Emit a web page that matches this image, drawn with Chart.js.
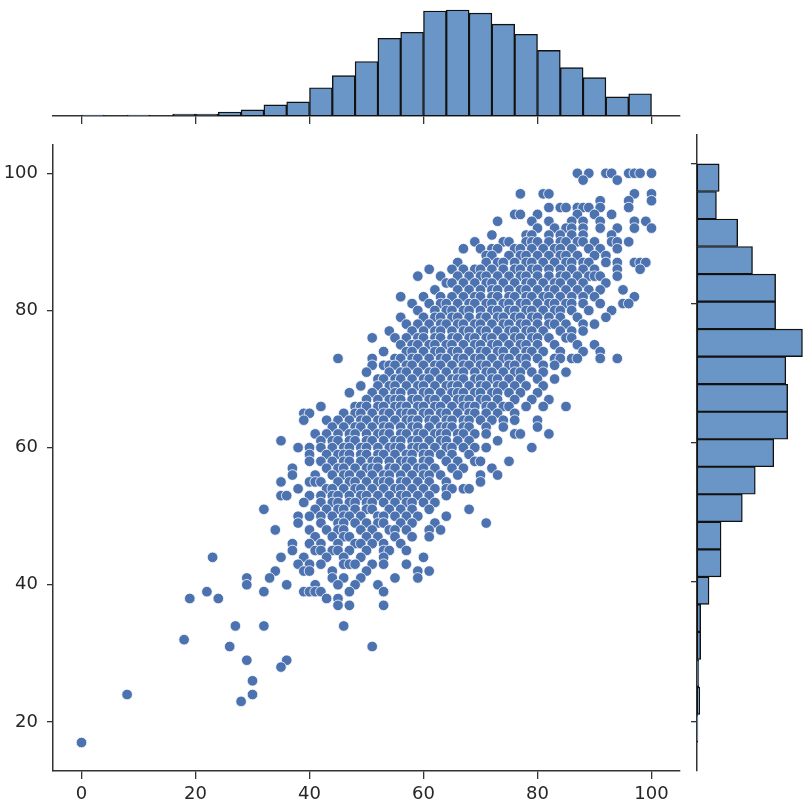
<!DOCTYPE html>
<html>
<head>
<meta charset="utf-8">
<script src="https://cdn.jsdelivr.net/npm/chart.js@4.4.1/dist/chart.umd.min.js"></script>
<style>
  body { margin: 0; background: #fff; }
  #wrap { position: relative; width: 810px; height: 812px; }
  canvas { position: absolute; }
  #top { left: 0; top: 0; }
  #main { left: 0; top: 125px; }
  #side { left: 690px; top: 125px; }
</style>
</head>
<body>
<div id="wrap">
  <canvas id="top" width="690" height="125"></canvas>
  <canvas id="main" width="690" height="687"></canvas>
  <canvas id="side" width="120" height="687"></canvas>
</div>
<script>
// top margin: math score histogram, 25 bins of 4 points (bin centres)
var mathBins = [2, 6, 10, 14, 18, 22, 26, 30, 34, 38, 42, 46, 50, 54, 58, 62, 66, 70, 74, 78, 82, 86, 90, 94, 98];
var mathCounts = [1, 0, 1, 0, 2, 2, 4, 6, 11, 14, 28, 40, 54, 77, 83, 104, 105, 102, 91, 81, 65, 48, 38, 19, 22];

// right margin: reading score histogram, 21 bins from 17 to 100 (bin centres)
var readingBins = [18.98, 22.93, 26.88, 30.83, 34.79, 38.74, 42.69, 46.64, 50.60, 54.55, 58.50,
                   62.45, 66.40, 70.36, 74.31, 78.26, 82.21, 86.17, 90.12, 94.07, 98.02];
var readingCounts = [1, 3, 2, 4, 4, 13, 26, 26, 49, 63, 83, 98, 98, 96, 114, 85, 85, 60, 44, 21, 24];

var xTicks = [0, 20, 40, 60, 80, 100];
var yTicks = [20, 40, 60, 80, 100];

// scatter: reading score levels and the math scores seen at each level
var readingLevels = [100, 99, 97, 96, 95, 94, 93, 92, 91, 90, 89, 88, 87, 86, 85, 84, 83, 82, 81, 80,
                     79, 78, 77, 76, 75, 74, 73, 72, 71, 70, 69, 68, 67, 66, 65, 64, 63, 62, 61, 60,
                     59, 58, 57, 56, 55, 54, 53, 52, 51, 50, 49, 48, 47, 46, 45, 44, 43, 42, 41, 40,
                     39, 38, 37, 34, 32, 31, 29, 28, 26, 24, 23, 17];
var mathAtLevel = [
  [87, 89, 92, 93, 96, 97, 98, 100],
  [88, 94],
  [77, 81, 82, 97, 100],
  [91, 96, 100],
  [82, 84, 85, 87, 88, 89, 91, 96],
  [76, 77, 80, 87, 90, 93],
  [73, 79, 82, 86, 88, 91, 97, 99],
  [80, 83, 85, 86, 88, 91, 94, 97, 100],
  [72, 78, 79, 82, 84, 86, 88, 93],
  [69, 74, 75, 78, 79, 80, 82, 84, 85, 87, 88, 90, 93, 94, 96],
  [67, 70, 72, 73, 76, 77, 79, 81, 83, 84, 86, 89, 91, 94],
  [71, 72, 75, 77, 78, 80, 82, 84, 85, 87, 90, 92],
  [66, 71, 73, 74, 76, 78, 79, 81, 83, 85, 86, 88, 89, 92, 94, 97, 98, 99],
  [61, 65, 67, 69, 70, 72, 74, 76, 77, 79, 80, 82, 84, 86, 88, 90, 94, 98],
  [59, 63, 66, 68, 70, 71, 73, 75, 77, 78, 80, 82, 84, 85, 87, 89, 90, 91, 94],
  [64, 65, 67, 69, 71, 72, 74, 76, 78, 79, 81, 83, 84, 86, 88, 92],
  [62, 66, 68, 70, 72, 73, 75, 77, 78, 80, 82, 83, 85, 87, 89, 91, 95],
  [56, 60, 63, 65, 67, 69, 70, 72, 73, 75, 76, 78, 79, 81, 82, 84, 86, 88, 90, 97],
  [58, 61, 63, 64, 66, 68, 69, 71, 72, 74, 75, 77, 78, 80, 82, 83, 85, 86, 88, 91, 95, 96],
  [59, 62, 64, 65, 67, 68, 70, 72, 73, 75, 76, 78, 79, 81, 83, 84, 86, 89, 93],
  [56, 60, 62, 63, 65, 66, 68, 70, 71, 73, 74, 76, 77, 79, 80, 82, 84, 87, 92],
  [57, 59, 61, 63, 64, 66, 67, 69, 70, 72, 74, 75, 77, 78, 80, 82, 83, 85, 88, 90],
  [54, 58, 60, 62, 63, 65, 67, 68, 70, 71, 73, 75, 76, 78, 79, 81, 84, 86, 88],
  [51, 55, 57, 59, 60, 62, 63, 65, 66, 68, 69, 71, 72, 74, 76, 77, 79, 80, 82, 85, 86],
  [56, 58, 59, 61, 62, 64, 65, 67, 69, 70, 72, 73, 75, 77, 78, 80, 83, 87, 90],
  [53, 57, 58, 60, 62, 63, 65, 66, 68, 70, 71, 73, 74, 76, 78, 79, 81, 84, 88, 91],
  [45, 51, 55, 56, 58, 59, 61, 63, 64, 66, 67, 69, 70, 72, 74, 75, 77, 78, 80, 83, 84, 86, 87, 91, 94],
  [51, 53, 54, 55, 57, 58, 60, 62, 63, 65, 67, 68, 70, 71, 73, 75, 76, 78, 81, 83],
  [50, 54, 56, 57, 59, 61, 62, 64, 66, 67, 69, 71, 72, 74, 76, 77, 79, 81, 85],
  [52, 53, 55, 56, 58, 60, 61, 63, 65, 66, 67, 69, 70, 72, 73, 75, 77, 80, 83],
  [49, 52, 54, 55, 57, 59, 60, 62, 64, 65, 66, 68, 70, 71, 73, 74, 76, 78, 81],
  [47, 51, 53, 55, 56, 58, 60, 61, 63, 65, 66, 67, 69, 70, 72, 73, 75, 77, 80],
  [50, 52, 54, 55, 56, 58, 59, 61, 62, 64, 66, 67, 68, 70, 71, 73, 76, 79, 82],
  [42, 48, 49, 50, 52, 53, 55, 56, 57, 59, 60, 62, 63, 65, 67, 68, 69, 71, 72, 74, 75, 78, 81, 85],
  [39, 40, 46, 48, 49, 51, 53, 54, 56, 57, 58, 60, 61, 63, 64, 66, 68, 69, 71, 73, 76],
  [39, 43, 45, 47, 49, 50, 52, 53, 55, 57, 58, 59, 61, 62, 64, 65, 67, 68, 70, 72, 74, 76, 80],
  [44, 46, 48, 49, 51, 53, 54, 56, 58, 59, 61, 63, 64, 65, 67, 68, 71, 74, 80],
  [41, 43, 45, 47, 48, 50, 52, 53, 54, 56, 57, 59, 60, 62, 63, 64, 66, 67, 69, 71, 76, 77, 82],
  [35, 42, 44, 45, 47, 48, 50, 51, 53, 55, 56, 58, 59, 61, 63, 64, 66, 68, 73],
  [38, 40, 42, 44, 46, 47, 49, 50, 52, 54, 55, 56, 58, 59, 60, 62, 64, 65, 67, 69, 71, 79],
  [40, 43, 45, 46, 47, 49, 50, 52, 53, 55, 57, 58, 60, 61, 63, 65, 68],
  [40, 42, 44, 46, 47, 49, 51, 52, 54, 56, 57, 58, 60, 61, 64, 66, 69, 70, 75],
  [37, 43, 45, 46, 48, 50, 51, 52, 54, 55, 57, 59, 60, 62, 65, 67, 72],
  [37, 41, 44, 46, 47, 49, 51, 53, 54, 56, 58, 60, 61, 63, 66, 70, 73],
  [35, 40, 41, 42, 45, 47, 48, 50, 52, 53, 54, 56, 57, 59, 61, 64, 70],
  [38, 43, 44, 46, 48, 49, 51, 53, 55, 56, 58, 60, 62, 64, 65, 67, 68],
  [35, 36, 40, 42, 44, 45, 47, 49, 50, 52, 54, 56, 57, 59, 61, 64],
  [39, 42, 44, 45, 47, 48, 50, 51, 53, 55, 57, 58, 60, 62],
  [32, 41, 43, 45, 46, 48, 50, 51, 54, 56, 58, 61, 68],
  [38, 40, 42, 44, 46, 47, 49, 52, 53, 55, 57, 59, 64],
  [38, 42, 45, 46, 48, 50, 52, 53, 56, 58, 62, 71],
  [34, 40, 43, 45, 46, 49, 51, 54, 55, 57, 61, 63],
  [41, 44, 46, 47, 50, 52, 55, 58, 61],
  [37, 40, 42, 45, 48, 49, 51, 53, 56],
  [37, 41, 42, 44, 45, 47, 50, 53, 54, 57],
  [23, 35, 39, 43, 46, 49, 53, 60],
  [38, 40, 42, 46, 47, 48, 51, 53, 57],
  [34, 39, 40, 44, 50, 59, 61],
  [29, 33, 44, 46, 49, 55, 59],
  [29, 36, 41, 45, 48, 52],
  [22, 32, 39, 40, 41, 42, 47, 53],
  [19, 24, 43, 45],
  [45, 47, 53],
  [27, 32, 46],
  [18],
  [26, 51],
  [29, 36],
  [35],
  [30],
  [8, 30],
  [28],
  [0]
];

Chart.defaults.font.family = "'DejaVu Sans', sans-serif";
Chart.defaults.animation = false;

var spine = '#333333';
var barFill = 'rgb(106, 150, 199)';

function setTicks(values) {
  return function(scale) {
    scale.ticks = values.map(function(v) { return { value: v }; });
  };
}

var points = [];
readingLevels.forEach(function(r, i) {
  mathAtLevel[i].forEach(function(m) { points.push({ x: m, y: r }); });
});

//scatter of math vs reading
new Chart(document.getElementById('main'), {
  type: 'scatter',
  data: {
    datasets: [{
      data: points,
      backgroundColor: '#4c72b0',
      borderColor: '#ffffff',
      borderWidth: 0.8,
      pointRadius: 5.3,
      pointHoverRadius: 5.3
    }]
  },
  options: {
    responsive: false,
    layout: { padding: { top: 10, right: 10, left: 0, bottom: 0 } },
    plugins: { legend: { display: false }, tooltip: { enabled: false } },
    scales: {
      x: {
        type: 'linear', min: -5, max: 105,
        afterBuildTicks: setTicks(xTicks),
        afterFit: function(s) { s.height = 41; },
        grid: { drawOnChartArea: false, tickLength: 8, color: spine, lineWidth: 1.3 },
        border: { color: spine, width: 1.5 },
        ticks: { font: { size: 18 }, color: '#262626', padding: 5, autoSkip: false, maxRotation: 0 }
      },
      y: {
        type: 'linear', min: 12.85, max: 104.15,
        afterBuildTicks: setTicks(yTicks),
        afterFit: function(s) { s.width = 53; },
        grid: { drawOnChartArea: false, tickLength: 6, color: spine, lineWidth: 1.3 },
        border: { color: spine, width: 1.5 },
        ticks: { font: { size: 18 }, color: '#262626', padding: 9, autoSkip: false }
      }
    }
  }
});

//top histogram
new Chart(document.getElementById('top'), {
  type: 'bar',
  data: {
    datasets: [{
      data: mathBins.map(function(c, i) { return { x: c, y: mathCounts[i] }; }),
      backgroundColor: barFill,
      borderColor: '#111111',
      borderWidth: 1.4,
      borderSkipped: false,
      barPercentage: 1,
      categoryPercentage: 1
    }]
  },
  options: {
    responsive: false,
    layout: { padding: { top: 5, right: 10, left: 53, bottom: 0 } },
    plugins: { legend: { display: false }, tooltip: { enabled: false } },
    scales: {
      x: {
        type: 'linear', min: -5, max: 105, offset: false,
        afterBuildTicks: setTicks(xTicks),
        afterFit: function(s) { s.height = 9; },
        grid: { offset: false, drawOnChartArea: false, tickLength: 8, color: spine, lineWidth: 1.3 },
        border: { color: spine, width: 1.5 },
        ticks: { display: false }
      },
      y: { display: false, min: 0, max: 110 }
    }
  }
});

//right histogram
new Chart(document.getElementById('side'), {
  type: 'bar',
  data: {
    datasets: [{
      data: readingBins.map(function(c, i) { return { x: readingCounts[i], y: c }; }),
      backgroundColor: barFill,
      borderColor: '#111111',
      borderWidth: 1.4,
      borderSkipped: false,
      barPercentage: 1,
      categoryPercentage: 1
    }]
  },
  options: {
    responsive: false,
    indexAxis: 'y',
    layout: { padding: { top: 10, right: 2, left: 0, bottom: 41 } },
    plugins: { legend: { display: false }, tooltip: { enabled: false } },
    scales: {
      y: {
        type: 'linear', min: 12.85, max: 104.15, offset: false,
        afterBuildTicks: setTicks(yTicks),
        afterFit: function(s) { s.width = 7; },
        grid: { offset: false, drawOnChartArea: false, tickLength: 6, color: spine, lineWidth: 1.3 },
        border: { color: spine, width: 1.5 },
        ticks: { display: false }
      },
      x: { display: false, min: 0, max: 120 }
    }
  }
});
</script>
</body>
</html>
